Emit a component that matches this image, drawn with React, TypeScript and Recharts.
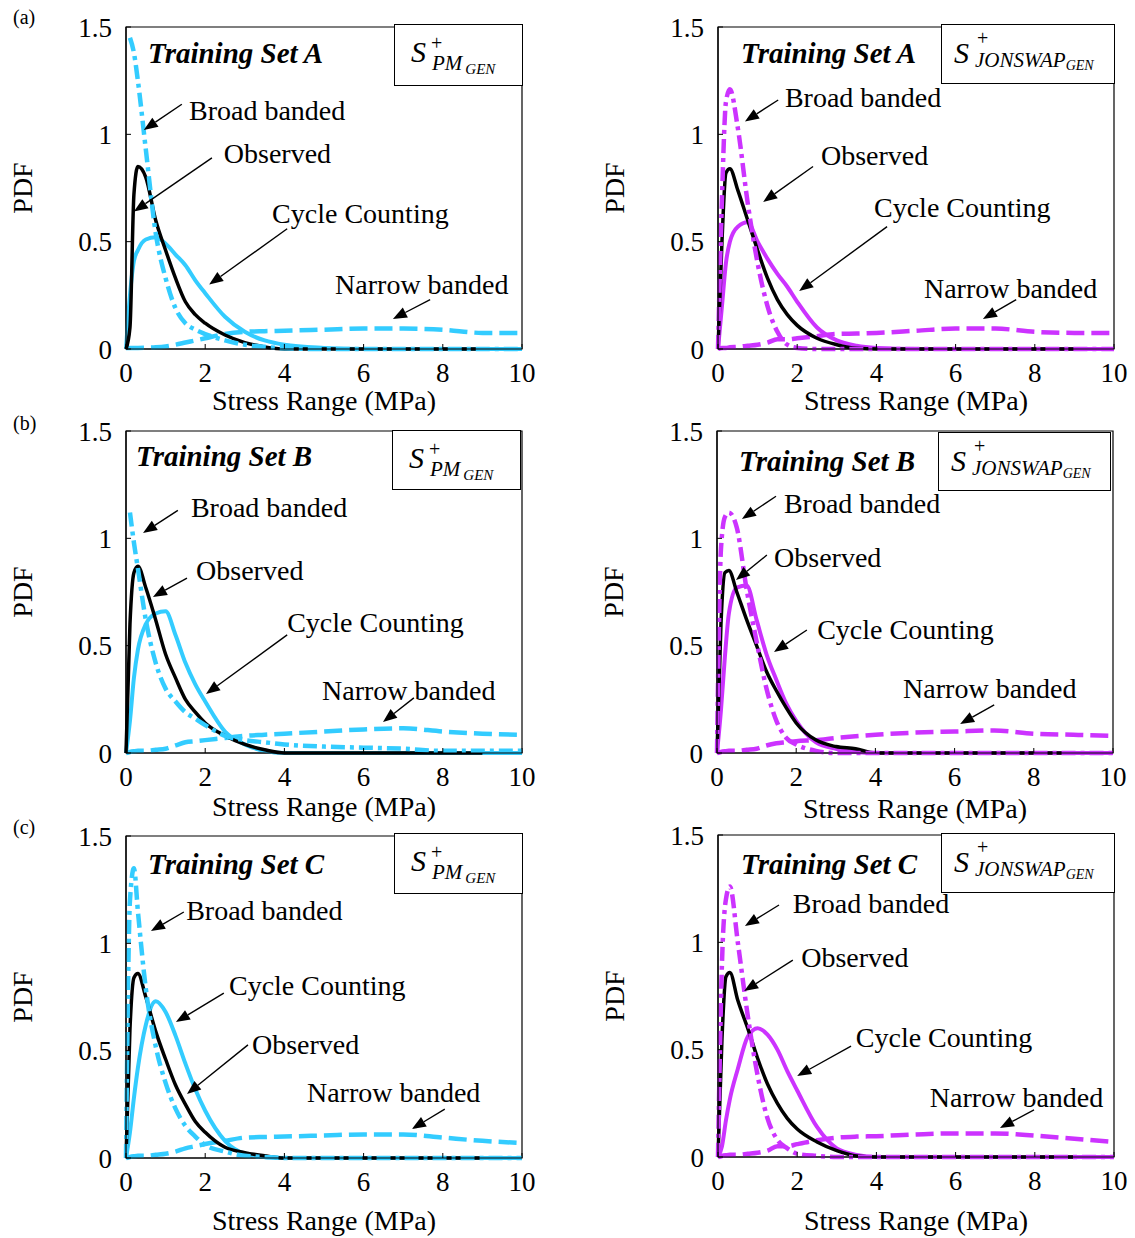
import React from "react";
import {
  Label,
  Line,
  LineChart,
  ReferenceArea,
  ReferenceDot,
  ReferenceLine,
  XAxis,
  YAxis,
} from "recharts";

const BLUE = "#33CCFF";
const PURPLE = "#CC33FF";
const FONT = '"Liberation Serif", "Times New Roman", Times, serif';

// shared x grid (stress range, MPa)
const stress = [0, 0.1, 0.2, 0.3, 0.5, 0.75, 1, 1.25, 1.5, 1.75, 2, 2.5, 3, 3.5, 4, 5, 6, 7, 8, 9, 10];
const xTicks = [0, 2, 4, 6, 8, 10];
const yTicks = [0, 0.5, 1, 1.5];

// (a) Training Set A
const observedPmA = [0, 0.1, 0.72, 0.85, 0.8, 0.6, 0.46, 0.33, 0.22, 0.16, 0.12, 0.065, 0.03, 0.01, 0, 0, 0, 0, 0, 0, null];
const cyclePmA = [0, 0.25, 0.41, 0.46, 0.51, 0.52, 0.49, 0.44, 0.39, 0.32, 0.26, 0.15, 0.08, 0.04, 0.02, 0.005, 0, 0, 0, 0, 0];
const broadPmA = [null, 1.45, 1.38, 1.25, 0.93, 0.54, 0.33, 0.19, 0.12, 0.09, 0.07, 0.04, 0.02, 0.01, 0.003, 0, 0, 0, 0, 0, 0];
const narrowPmA = [0.005, 0.005, 0.005, 0.005, 0.006, 0.008, 0.012, 0.02, 0.03, 0.04, 0.05, 0.07, 0.08, 0.083, 0.085, 0.09, 0.095, 0.095, 0.09, 0.075, 0.075];

const observedJsA = [0, 0.5, 0.82, 0.84, 0.74, 0.6, 0.46, 0.33, 0.23, 0.16, 0.11, 0.05, 0.02, 0.003, 0, 0, 0, 0, 0, 0, null];
const cycleJsA = [0, 0.2, 0.4, 0.5, 0.57, 0.59, 0.5, 0.42, 0.35, 0.29, 0.22, 0.1, 0.04, 0.015, 0.005, 0, 0, 0, 0, 0, 0];
const broadJsA = [0, 0.7, 1.15, 1.21, 1.03, 0.68, 0.4, 0.2, 0.08, 0.02, 0.005, 0, 0, 0, 0, 0, 0, 0, 0, 0, 0];
const narrowJsA = [0, 0.005, 0.005, 0.008, 0.01, 0.015, 0.02, 0.03, 0.045, 0.045, 0.05, 0.06, 0.07, 0.072, 0.075, 0.085, 0.095, 0.095, 0.08, 0.075, 0.075];

// (b) Training Set B
const observedPmB = [0, 0.6, 0.84, 0.87, 0.77, 0.62, 0.46, 0.35, 0.25, 0.19, 0.14, 0.08, 0.04, 0.015, 0, 0, 0, 0, 0, 0, null];
const cyclePmB = [0, 0.15, 0.35, 0.48, 0.6, 0.65, 0.66, 0.55, 0.42, 0.32, 0.24, 0.1, 0.04, 0.01, 0, 0, 0, 0, 0, 0, 0];
const broadPmB = [null, 1.12, 0.98, 0.86, 0.62, 0.42, 0.3, 0.24, 0.19, 0.16, 0.13, 0.08, 0.06, 0.05, 0.04, 0.03, 0.025, 0.02, 0.01, 0.01, 0.01];
const narrowPmB = [0, 0.005, 0.008, 0.01, 0.01, 0.015, 0.02, 0.035, 0.05, 0.055, 0.06, 0.07, 0.08, 0.085, 0.09, 0.1, 0.11, 0.115, 0.1, 0.09, 0.085];

const observedJsB = [0, 0.6, 0.84, 0.85, 0.75, 0.62, 0.5, 0.38, 0.29, 0.21, 0.14, 0.06, 0.03, 0.02, 0, 0, 0, 0, 0, 0, null];
const cycleJsB = [0, 0.2, 0.45, 0.65, 0.77, 0.78, 0.62, 0.46, 0.34, 0.23, 0.15, 0.05, 0.02, 0.005, 0, 0, 0, 0, 0, 0, 0];
const broadJsB = [0, 0.95, 1.1, 1.12, 1.05, 0.76, 0.52, 0.3, 0.15, 0.07, 0.04, 0.01, 0, 0, 0, 0, 0, 0, 0, 0, 0];
const narrowJsB = [0, 0.005, 0.008, 0.01, 0.01, 0.015, 0.02, 0.035, 0.045, 0.05, 0.055, 0.06, 0.07, 0.078, 0.085, 0.095, 0.1, 0.105, 0.09, 0.085, 0.08];

// (c) Training Set C
const observedPmC = [0, 0.6, 0.84, 0.86, 0.75, 0.59, 0.46, 0.34, 0.25, 0.17, 0.12, 0.05, 0.025, 0.01, 0, 0, 0, 0, 0, 0, null];
const cyclePmC = [0, 0.12, 0.28, 0.42, 0.62, 0.73, 0.68, 0.57, 0.44, 0.32, 0.22, 0.08, 0.02, 0.005, 0, 0, 0, 0, 0, 0, 0];
const broadPmC = [0, 1.2, 1.35, 1.15, 0.79, 0.52, 0.35, 0.23, 0.15, 0.1, 0.06, 0.03, 0.01, 0.005, 0, 0, 0, 0, 0, 0, 0];
const narrowPmC = [0, 0.005, 0.008, 0.01, 0.01, 0.015, 0.02, 0.03, 0.045, 0.055, 0.065, 0.08, 0.095, 0.098, 0.1, 0.105, 0.11, 0.11, 0.095, 0.08, 0.07];

const observedJsC = [0, 0.55, 0.84, 0.86, 0.73, 0.6, 0.46, 0.34, 0.25, 0.18, 0.13, 0.07, 0.03, 0.005, 0, 0, 0, 0, 0, 0, null];
const cycleJsC = [0, 0.05, 0.17, 0.27, 0.41, 0.56, 0.6, 0.57, 0.5, 0.4, 0.31, 0.14, 0.04, 0.01, 0, 0, 0, 0, 0, 0, 0];
const broadJsC = [0, 0.9, 1.2, 1.26, 1.0, 0.66, 0.38, 0.18, 0.08, 0.04, 0.015, 0.005, 0, 0, 0, 0, 0, 0, 0, 0, 0];
const narrowJsC = [0, 0.005, 0.008, 0.01, 0.01, 0.015, 0.02, 0.03, 0.05, 0.05, 0.06, 0.078, 0.09, 0.095, 0.097, 0.105, 0.11, 0.11, 0.1, 0.085, 0.07];

type Note = { text: string; tx: number; ty: number; x1: number; y1: number; x2: number; y2: number };

// callouts in data units: label start (tx, ty) and arrow tail -> head
const notesPmA: Note[] = [
  { text: "Broad banded", tx: 1.59, ty: 1.11, x1: 1.41, y1: 1.14, x2: 0.45, y2: 1.02 },
  { text: "Observed", tx: 2.47, ty: 0.91, x1: 2.17, y1: 0.89, x2: 0.2, y2: 0.64 },
  { text: "Cycle Counting", tx: 3.69, ty: 0.63, x1: 4.07, y1: 0.56, x2: 2.1, y2: 0.3 },
  { text: "Narrow banded", tx: 5.28, ty: 0.3, x1: 7.68, y1: 0.23, x2: 6.74, y2: 0.14 },
];
const notesJsA: Note[] = [
  { text: "Broad banded", tx: 1.69, ty: 1.17, x1: 1.52, y1: 1.16, x2: 0.68, y2: 1.06 },
  { text: "Observed", tx: 2.6, ty: 0.9, x1: 2.4, y1: 0.85, x2: 1.14, y2: 0.685 },
  { text: "Cycle Counting", tx: 3.94, ty: 0.66, x1: 4.27, y1: 0.57, x2: 2.05, y2: 0.27 },
  { text: "Narrow banded", tx: 5.2, ty: 0.28, x1: 7.53, y1: 0.23, x2: 6.69, y2: 0.14 },
];
const notesPmB: Note[] = [
  { text: "Broad banded", tx: 1.64, ty: 1.145, x1: 1.31, y1: 1.13, x2: 0.43, y2: 1.025 },
  { text: "Observed", tx: 1.77, ty: 0.85, x1: 1.54, y1: 0.815, x2: 0.68, y2: 0.727 },
  { text: "Cycle Counting", tx: 4.07, ty: 0.61, x1: 4.07, y1: 0.55, x2: 2.02, y2: 0.275 },
  { text: "Narrow banded", tx: 4.95, ty: 0.29, x1: 7.27, y1: 0.257, x2: 6.49, y2: 0.144 },
];
const notesJsB: Note[] = [
  { text: "Broad banded", tx: 1.69, ty: 1.16, x1: 1.49, y1: 1.196, x2: 0.63, y2: 1.09 },
  { text: "Observed", tx: 1.44, ty: 0.91, x1: 1.26, y1: 0.922, x2: 0.48, y2: 0.806 },
  { text: "Cycle Counting", tx: 2.53, ty: 0.573, x1: 2.27, y1: 0.573, x2: 1.44, y2: 0.471 },
  { text: "Narrow banded", tx: 4.7, ty: 0.3, x1: 7.0, y1: 0.224, x2: 6.14, y2: 0.135 },
];
const notesPmC: Note[] = [
  { text: "Broad banded", tx: 1.52, ty: 1.155, x1: 1.46, y1: 1.146, x2: 0.63, y2: 1.057 },
  { text: "Cycle Counting", tx: 2.6, ty: 0.805, x1: 2.47, y1: 0.768, x2: 1.26, y2: 0.633 },
  { text: "Observed", tx: 3.18, ty: 0.531, x1: 3.08, y1: 0.527, x2: 1.54, y2: 0.298 },
  { text: "Narrow banded", tx: 4.57, ty: 0.307, x1: 8.05, y1: 0.228, x2: 7.22, y2: 0.135 },
];
const notesJsC: Note[] = [
  { text: "Broad banded", tx: 1.89, ty: 1.183, x1: 1.54, y1: 1.174, x2: 0.68, y2: 1.076 },
  { text: "Observed", tx: 2.1, ty: 0.931, x1: 1.89, y1: 0.917, x2: 0.66, y2: 0.773 },
  { text: "Cycle Counting", tx: 3.48, ty: 0.559, x1: 3.36, y1: 0.517, x2: 2.0, y2: 0.377 },
  { text: "Narrow banded", tx: 5.35, ty: 0.279, x1: 7.98, y1: 0.219, x2: 7.12, y2: 0.135 },
];

type PanelSpec = {
  id: string;
  letter?: string;
  set: string;
  spectrum: "PM" | "JONSWAP";
  color: string;
  plotLeft: number;
  plotTop: number;
  xTitleDy: number;
  title: { left: number; mid: number };
  box: { left: number; top: number; width: number; height: number };
  observed: (number | null)[];
  cycle: (number | null)[];
  broad: (number | null)[];
  narrow: (number | null)[];
  notes: Note[];
};

const panels: PanelSpec[] = [
  {
    id: "pmA", letter: "(a)", set: "A", spectrum: "PM", color: BLUE, plotLeft: 126, plotTop: 27, xTitleDy: 51,
    title: { left: 148, mid: 53 }, box: { left: 394, top: 24, width: 129, height: 62 },
    observed: observedPmA, cycle: cyclePmA, broad: broadPmA, narrow: narrowPmA, notes: notesPmA,
  },
  {
    id: "jsA", set: "A", spectrum: "JONSWAP", color: PURPLE, plotLeft: 718, plotTop: 27, xTitleDy: 51,
    title: { left: 741, mid: 53 }, box: { left: 941, top: 24, width: 174, height: 60 },
    observed: observedJsA, cycle: cycleJsA, broad: broadJsA, narrow: narrowJsA, notes: notesJsA,
  },
  {
    id: "pmB", letter: "(b)", set: "B", spectrum: "PM", color: BLUE, plotLeft: 126, plotTop: 431, xTitleDy: 53,
    title: { left: 136, mid: 456 }, box: { left: 392, top: 430, width: 129, height: 60 },
    observed: observedPmB, cycle: cyclePmB, broad: broadPmB, narrow: narrowPmB, notes: notesPmB,
  },
  {
    id: "jsB", set: "B", spectrum: "JONSWAP", color: PURPLE, plotLeft: 717, plotTop: 431, xTitleDy: 55,
    title: { left: 739, mid: 461 }, box: { left: 938, top: 432, width: 173, height: 59 },
    observed: observedJsB, cycle: cycleJsB, broad: broadJsB, narrow: narrowJsB, notes: notesJsB,
  },
  {
    id: "pmC", letter: "(c)", set: "C", spectrum: "PM", color: BLUE, plotLeft: 126, plotTop: 836, xTitleDy: 62,
    title: { left: 148, mid: 864 }, box: { left: 394, top: 833, width: 129, height: 61 },
    observed: observedPmC, cycle: cyclePmC, broad: broadPmC, narrow: narrowPmC, notes: notesPmC,
  },
  {
    id: "jsC", set: "C", spectrum: "JONSWAP", color: PURPLE, plotLeft: 718, plotTop: 835, xTitleDy: 63,
    title: { left: 741, mid: 864 }, box: { left: 941, top: 833, width: 174, height: 60 },
    observed: observedJsC, cycle: cycleJsC, broad: broadJsC, narrow: narrowJsC, notes: notesJsC,
  },
];

const letterTops: Record<string, number> = { "(a)": 17, "(b)": 423, "(c)": 827 };

const PLOT_W = 396;
const PLOT_H = 322;
const CHART_LEFT_PAD = 120;
const CHART_TOP_PAD = 22;

function Arrow(props: any) {
  const { x1, y1, x2, y2 } = props;
  const ang = Math.atan2(y2 - y1, x2 - x1);
  const len = 14;
  const half = 5.5;
  const bx = x2 - len * Math.cos(ang);
  const by = y2 - len * Math.sin(ang);
  const px = -Math.sin(ang) * half;
  const py = Math.cos(ang) * half;
  return (
    <g>
      <line x1={x1} y1={y1} x2={bx} y2={by} stroke="#000" strokeWidth={1.4} />
      <polygon points={`${x2},${y2} ${bx + px},${by + py} ${bx - px},${by - py}`} fill="#000" />
    </g>
  );
}

function SpectrumBox({ p }: { p: PanelSpec }) {
  const { box } = p;
  const isPm = p.spectrum === "PM";
  return (
    <div
      style={{
        position: "absolute",
        left: box.left,
        top: box.top,
        width: box.width,
        height: box.height,
        boxSizing: "border-box",
        border: "1.5px solid #000",
        background: "#fff",
      }}
    >
      <svg width={box.width} height={box.height} style={{ position: "absolute", left: -1.5, top: -1.5 }} fontFamily={FONT}>
        <text x={isPm ? 17 : 13} y={isPm ? 38 : 39} fontSize={30} fontStyle="italic">S</text>
        <text x={isPm ? 37 : 36} y={isPm ? 26 : 21} fontSize={20}>+</text>
        {isPm ? (
          <text x={38} y={46} fontSize={21} fontStyle="italic">
            PM
            <tspan dx={3} dy={4} fontSize={15}>GEN</tspan>
          </text>
        ) : (
          <text x={34} y={43} fontSize={21} fontStyle="italic">
            JONSWAP
            <tspan dy={3} fontSize={14}>GEN</tspan>
          </text>
        )}
      </svg>
    </div>
  );
}

function Panel({ p }: { p: PanelSpec }) {
  const data = stress.map((x, i) => ({
    x,
    observed: p.observed[i],
    cycle: p.cycle[i],
    broad: p.broad[i],
    narrow: p.narrow[i],
  }));
  const tickStyle = { fill: "#000", fontSize: 27, fontFamily: FONT };

  return (
    <>
      <div style={{ position: "absolute", left: p.plotLeft - CHART_LEFT_PAD, top: p.plotTop - CHART_TOP_PAD }}>
        <LineChart
          width={CHART_LEFT_PAD + PLOT_W + 14}
          height={CHART_TOP_PAD + PLOT_H + 80}
          data={data}
          margin={{ top: CHART_TOP_PAD, right: 14, bottom: 0, left: CHART_LEFT_PAD - 60 }}
        >
          <XAxis
            dataKey="x"
            type="number"
            domain={[0, 10]}
            ticks={xTicks}
            interval={0}
            height={80}
            tickSize={-5}
            tickMargin={19}
            axisLine={{ stroke: "#000", strokeWidth: 1.2 }}
            tickLine={{ stroke: "#000" }}
            tick={tickStyle}
          >
            <Label
              content={(lp: any) => {
                const vb = lp.viewBox;
                return (
                  <text
                    x={vb.x + vb.width / 2}
                    y={vb.y + p.xTitleDy}
                    textAnchor="middle"
                    dominantBaseline="central"
                    fontSize={28}
                    fontFamily={FONT}
                    fill="#000"
                  >
                    Stress Range (MPa)
                  </text>
                );
              }}
            />
          </XAxis>
          <YAxis
            type="number"
            domain={[0, 1.5]}
            ticks={yTicks}
            interval={0}
            width={60}
            tickSize={-5}
            tickMargin={19}
            axisLine={{ stroke: "#000", strokeWidth: 1.2 }}
            tickLine={{ stroke: "#000" }}
            tick={tickStyle}
          >
            <Label
              content={(lp: any) => {
                const vb = lp.viewBox;
                const cx = vb.x + vb.width - 104;
                const cy = vb.y + vb.height / 2;
                return (
                  <text
                    x={cx}
                    y={cy}
                    transform={`rotate(-90, ${cx}, ${cy})`}
                    textAnchor="middle"
                    dominantBaseline="central"
                    fontSize={28}
                    fontFamily={FONT}
                    fill="#000"
                  >
                    PDF
                  </text>
                );
              }}
            />
          </YAxis>
          <ReferenceArea x1={0} x2={10} y1={0} y2={1.5} fill="none" stroke="#000" strokeWidth={1.2} ifOverflow="visible" />
          <Line
            dataKey="narrow"
            type="monotone"
            stroke={p.color}
            strokeWidth={4.5}
            strokeDasharray="18 7"
            dot={false}
            activeDot={false}
            isAnimationActive={false}
          />
          <Line
            dataKey="cycle"
            type="monotone"
            stroke={p.color}
            strokeWidth={4}
            dot={false}
            activeDot={false}
            isAnimationActive={false}
          />
          <Line
            dataKey="observed"
            type="monotone"
            stroke="#000"
            strokeWidth={3.5}
            dot={false}
            activeDot={false}
            isAnimationActive={false}
          />
          <Line
            dataKey="broad"
            type="monotone"
            stroke={p.color}
            strokeWidth={4.5}
            strokeDasharray="14 5 4 5"
            dot={false}
            activeDot={false}
            isAnimationActive={false}
          />
          {p.notes.map((n, i) => (
            <ReferenceLine
              key={`arrow-${i}`}
              segment={[
                { x: n.x1, y: n.y1 },
                { x: n.x2, y: n.y2 },
              ]}
              ifOverflow="visible"
              shape={Arrow}
            />
          ))}
          {p.notes.map((n, i) => (
            <ReferenceDot
              key={`note-${i}`}
              x={n.tx}
              y={n.ty}
              r={1}
              ifOverflow="visible"
              shape={(s: any) => (
                <text
                  x={s.cx}
                  y={s.cy}
                  textAnchor="start"
                  dominantBaseline="central"
                  fontSize={28}
                  fontFamily={FONT}
                  fill="#000"
                >
                  {n.text}
                </text>
              )}
            />
          ))}
        </LineChart>
      </div>
      <div
        style={{
          position: "absolute",
          left: p.title.left,
          top: p.title.mid - 15,
          fontFamily: FONT,
          fontSize: 29,
          fontWeight: "bold",
          fontStyle: "italic",
          lineHeight: "30px",
          whiteSpace: "nowrap",
        }}
      >
        Training Set {p.set}
      </div>
      <SpectrumBox p={p} />
      {p.letter && (
        <div
          style={{
            position: "absolute",
            left: 13,
            top: letterTops[p.letter] - 11,
            fontFamily: FONT,
            fontSize: 20,
            lineHeight: "22px",
          }}
        >
          {p.letter}
        </div>
      )}
    </>
  );
}

export default function App() {
  return (
    <div
      style={{
        position: "absolute",
        left: 0,
        top: 0,
        width: 1135,
        height: 1238,
        background: "#fff",
        overflow: "hidden",
      }}
    >
      {panels.map((p) => (
        <Panel key={p.id} p={p} />
      ))}
    </div>
  );
}
